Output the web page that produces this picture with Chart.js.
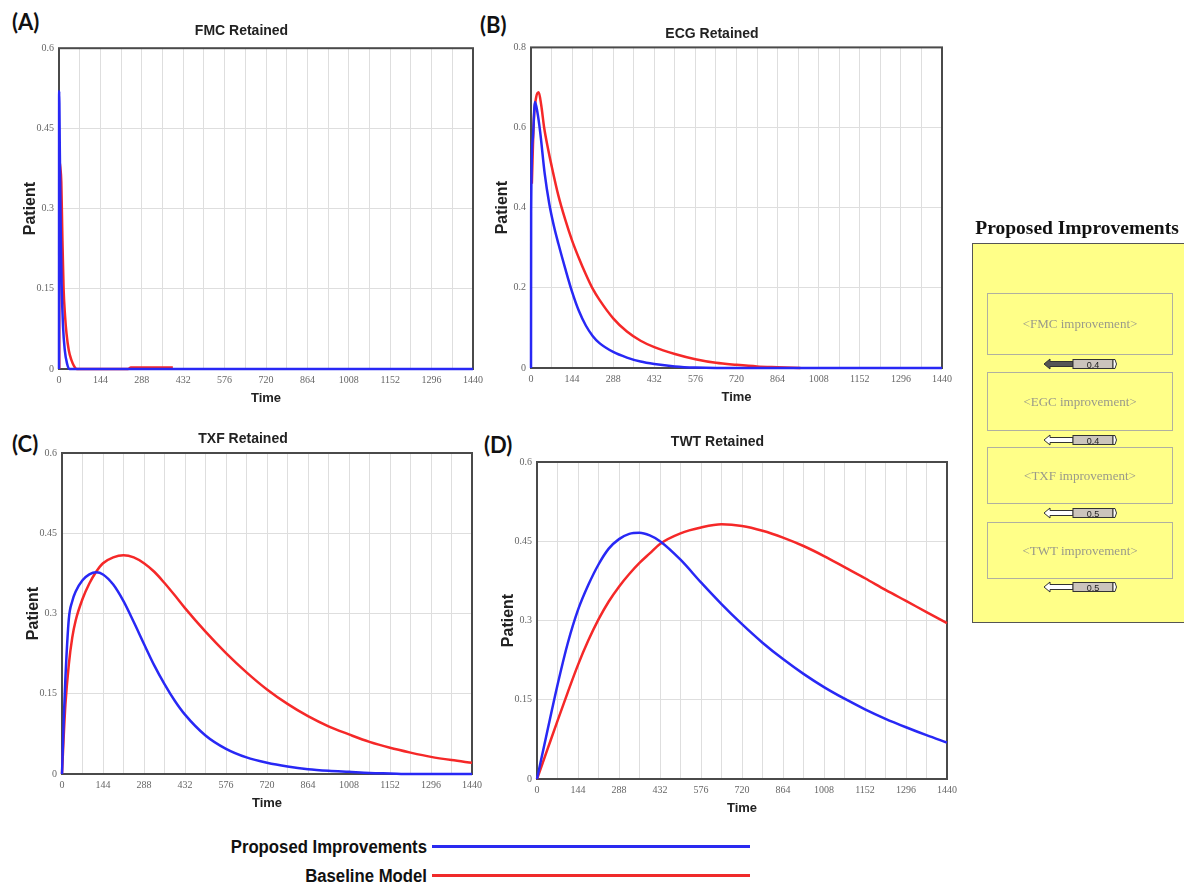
<!DOCTYPE html>
<html>
<head>
<meta charset="utf-8">
<title>Patients retained</title>
<script src="https://cdn.jsdelivr.net/npm/chart.js@4.4.1/dist/chart.umd.min.js"></script>
<style>
  body { margin: 0; width: 1184px; height: 887px; position: relative; overflow: hidden; background: #fff; font-family: "Liberation Sans", Arial, sans-serif; }
  canvas { position: absolute; }
  .tag { position: absolute; font: bold 22px Lato, "Open Sans", sans-serif; line-height: 26px; color: #111; }
  #panelTitle { position: absolute; left: 968px; top: 217px; width: 218px; text-align: center; white-space: nowrap; font: bold 19.5px "Liberation Serif", serif; color: #111; }
  #panel { position: absolute; left: 972px; top: 243px; width: 214px; height: 380px; background: #ffff88; border: 1px solid #555; box-sizing: border-box; }
  .imp { position: absolute; border: 1px solid #b0b0a0; box-sizing: border-box; display: flex; align-items: center; justify-content: center; font: 13px "Liberation Serif", serif; color: #9a9a8a; }
  .slider { position: absolute; }
  .legText { position: absolute; left: 127px; width: 300px; text-align: right; white-space: nowrap; font: bold 18px "Liberation Sans", Arial, sans-serif; color: #111; line-height: 22px; transform: scaleX(0.93); transform-origin: right center; }
  .legLine { position: absolute; left: 432px; width: 318px; height: 3px; }
</style>
</head>
<body>
<div class="tag" style="left:12px;top:9px">(A)</div>
<div class="tag" style="left:480px;top:12px">(B)</div>
<div class="tag" style="left:12px;top:431px">(C)</div>
<div class="tag" style="left:484px;top:432px">(D)</div>

<canvas id="fmc" width="480" height="392" style="left:10px;top:17px"></canvas>
<canvas id="ecg" width="504" height="388" style="left:482px;top:20px"></canvas>
<canvas id="txf" width="474" height="389" style="left:13px;top:425px"></canvas>
<canvas id="twt" width="496" height="391" style="left:488px;top:428px"></canvas>

<div id="panelTitle">Proposed Improvements</div>
<div id="panel"></div>

<div class="legText" id="leg0" style="top:836px"></div>
<div class="legLine" style="top:845px;background:#2a2af0"></div>
<div class="legText" id="leg1" style="top:865px"></div>
<div class="legLine" style="top:874px;background:#f02a2a"></div>

<script>
const seriesNames = ["Proposed Improvements", "Baseline Model"];
const timeLabels = [0, 144, 288, 432, 576, 720, 864, 1008, 1152, 1296, 1440];

// (A) FMC Retained
const fmcTimeProposed = [0, 0.5, 3, 6, 9, 14, 20, 28, 37, 1440];
const fmcProposed = [0, 0.52, 0.4, 0.26, 0.16, 0.08, 0.036, 0.01, 0, 0];
const fmcTimeBaseline = [1, 1.5, 5, 8, 12, 16, 21, 26, 34, 43, 52, 62, 240, 250, 396];
const fmcBaseline = [0, 0.39, 0.375, 0.35, 0.24, 0.15, 0.1, 0.067, 0.035, 0.017, 0.006, 0, 0, 0.003, 0.003];
const fmcTicks = [0, 0.15, 0.3, 0.45, 0.6];
const fmcTickLabels = ["0", "0.15", "0.3", "0.45", "0.6"];

// (B) ECG Retained
const ecgTimeProposed = [0, 0.5, 6, 14, 22, 32, 48, 64, 80, 96, 120, 144, 168, 192, 216, 240, 288, 336, 384, 432, 504, 576, 648, 1440];
const ecgProposed = [0, 0.39, 0.57, 0.664, 0.64, 0.59, 0.485, 0.41, 0.355, 0.31, 0.248, 0.19, 0.142, 0.106, 0.08, 0.062, 0.04, 0.026, 0.016, 0.01, 0.004, 0.001, 0, 0];
const ecgTimeBaseline = [3, 10, 18, 27, 36, 46, 60, 72, 96, 120, 144, 168, 192, 216, 240, 288, 336, 384, 432, 504, 576, 648, 720, 792, 864, 944];
const ecgBaseline = [0.46, 0.62, 0.675, 0.688, 0.655, 0.6, 0.546, 0.505, 0.43, 0.37, 0.318, 0.274, 0.234, 0.198, 0.17, 0.124, 0.091, 0.068, 0.052, 0.035, 0.022, 0.013, 0.008, 0.004, 0.002, 0];
const ecgTicks = [0, 0.2, 0.4, 0.6, 0.8];
const ecgTickLabels = ["0", "0.2", "0.4", "0.6", "0.8"];

// (C) TXF Retained
const txfTime = [0, 6, 12, 24, 36, 48, 72, 96, 120, 144, 180, 216, 252, 288, 324, 360, 396, 432, 504, 576, 648, 720, 792, 864, 936, 1008, 1080, 1152, 1224, 1296, 1368, 1440];
const txfProposed = [0, 0.1, 0.18, 0.29, 0.323, 0.341, 0.362, 0.373, 0.377, 0.373, 0.354, 0.323, 0.284, 0.243, 0.203, 0.168, 0.137, 0.111, 0.072, 0.047, 0.031, 0.021, 0.014, 0.009, 0.006, 0.004, 0.002, 0.001, 0, 0, 0, 0];
const txfBaseline = [0, 0.07, 0.13, 0.205, 0.255, 0.287, 0.327, 0.356, 0.378, 0.394, 0.405, 0.409, 0.405, 0.394, 0.378, 0.357, 0.334, 0.31, 0.266, 0.226, 0.19, 0.158, 0.131, 0.108, 0.089, 0.074, 0.06, 0.049, 0.04, 0.032, 0.026, 0.021];
const txfTicks = [0, 0.15, 0.3, 0.45, 0.6];
const txfTickLabels = ["0", "0.15", "0.3", "0.45", "0.6"];

// (D) TWT Retained
const twtTime = [0, 36, 72, 108, 144, 180, 216, 252, 288, 324, 360, 396, 432, 504, 576, 648, 720, 792, 864, 936, 1008, 1080, 1152, 1224, 1296, 1368, 1440];
const twtProposed = [0, 0.09, 0.178, 0.257, 0.32, 0.367, 0.406, 0.436, 0.454, 0.464, 0.466, 0.461, 0.45, 0.415, 0.372, 0.331, 0.293, 0.258, 0.227, 0.199, 0.174, 0.152, 0.132, 0.114, 0.098, 0.083, 0.069];
const twtBaseline = [0, 0.055, 0.11, 0.164, 0.216, 0.262, 0.302, 0.336, 0.364, 0.388, 0.409, 0.427, 0.445, 0.465, 0.476, 0.482, 0.479, 0.47, 0.457, 0.441, 0.422, 0.401, 0.38, 0.358, 0.337, 0.316, 0.295];
const twtTicks = [0, 0.15, 0.3, 0.45, 0.6];
const twtTickLabels = ["0", "0.15", "0.3", "0.45", "0.6"];

// side panel
const improvementNames = ["<FMC improvement>", "<EGC improvement>", "<TXF improvement>", "<TWT improvement>"];
const improvementValues = ["0.4", "0.4", "0.5", "0.5"];

const blue = "rgb(40, 40, 245)";
const red = "rgb(245, 40, 40)";

function pts(xs, ys) {
  return xs.map((x, i) => ({ x: x, y: ys[i] }));
}

const frame = {
  id: "frame",
  beforeDatasetsDraw(chart) {
    const { ctx, chartArea: a } = chart;
    ctx.save();
    ctx.strokeStyle = "#4a4a4a";
    ctx.lineWidth = 2;
    ctx.strokeRect(a.left, a.top, a.right - a.left, a.bottom - a.top);
    ctx.restore();
  },
};

function makePanel(id, title, proposed, baseline, yTicks, yTickLabels, padRight, titlePad) {
  return new Chart(document.getElementById(id), {
    type: "line",
    data: {
      datasets: [
        { label: seriesNames[0], data: proposed, borderColor: blue, borderWidth: 2.5, pointRadius: 0, cubicInterpolationMode: "monotone", clip: false },
        { label: seriesNames[1], data: baseline, borderColor: red, borderWidth: 2.5, pointRadius: 0, cubicInterpolationMode: "monotone", clip: false },
      ],
    },
    options: {
      responsive: false,
      animation: false,
      layout: { padding: { left: 0, top: 0, right: padRight, bottom: 0 } },
      plugins: {
        legend: { display: false },
        tooltip: { enabled: false },
        title: {
          display: true,
          text: title,
          color: "#222",
          font: { family: "Liberation Sans", size: 14, weight: "bold" },
          padding: { top: 6, bottom: titlePad },
        },
      },
      scales: {
        x: {
          type: "linear",
          min: 0,
          max: 1440,
          afterFit: (axis) => { axis.height = 40; },
          ticks: {
            stepSize: 72,
            autoSkip: false,
            maxRotation: 0,
            padding: 5,
            color: "#666",
            font: { family: "Liberation Serif", size: 10 },
            callback: (v) => (timeLabels.includes(v) ? String(v) : ""),
          },
          grid: { color: "#dedede", drawTicks: false },
          border: { display: false },
          title: {
            display: true,
            text: "Time",
            color: "#222",
            font: { family: "Liberation Sans", size: 13, weight: "bold" },
            padding: { top: 0, bottom: 3 },
          },
        },
        y: {
          min: yTicks[0],
          max: yTicks[yTicks.length - 1],
          afterFit: (axis) => { axis.width = 49; },
          afterBuildTicks: (axis) => { axis.ticks = yTicks.map((v) => ({ value: v })); },
          ticks: {
            padding: 5,
            color: "#666",
            font: { family: "Liberation Serif", size: 10 },
            callback: (v, i) => yTickLabels[i],
          },
          grid: { color: "#dedede", drawTicks: false },
          border: { display: false },
          title: {
            display: true,
            text: "Patient",
            color: "#222",
            font: { family: "Liberation Sans", size: 16, weight: "bold" },
            padding: { top: 11, bottom: 0 },
          },
        },
      },
    },
    plugins: [frame],
  });
}

makePanel("fmc", "FMC Retained", pts(fmcTimeProposed, fmcProposed), pts(fmcTimeBaseline, fmcBaseline), fmcTicks, fmcTickLabels, 17, 8.4);
makePanel("ecg", "ECG Retained", pts(ecgTimeProposed, ecgProposed), pts(ecgTimeBaseline, ecgBaseline), ecgTicks, ecgTickLabels, 44, 4.6);
makePanel("txf", "TXF Retained", pts(txfTime, txfProposed), pts(txfTime, txfBaseline), txfTicks, txfTickLabels, 14, 5.2);
makePanel("twt", "TWT Retained", pts(twtTime, twtProposed), pts(twtTime, twtBaseline), twtTicks, twtTickLabels, 37, 11.2);

// side panel boxes and sliders
const boxTops = [49, 128, 203, 278];
const boxHeights = [62, 59, 57, 57];
const sliderTops = [112, 188, 261, 335];
const panel = document.getElementById("panel");
improvementNames.forEach((name, i) => {
  const box = document.createElement("div");
  box.className = "imp";
  box.style.left = "14px";
  box.style.width = "186px";
  box.style.top = boxTops[i] + "px";
  box.style.height = boxHeights[i] + "px";
  box.textContent = name;
  panel.appendChild(box);

  const fill = i === 0 ? "#555" : "#fff";
  const s = document.createElement("div");
  s.className = "slider";
  s.style.left = "70px";
  s.style.top = sliderTops[i] + "px";
  s.innerHTML =
    '<svg width="76" height="12" xmlns="http://www.w3.org/2000/svg">' +
    '<polygon points="1,6 7,1 7,3.5 30,3.5 30,8.5 7,8.5 7,11" fill="' + fill + '" stroke="#333" stroke-width="1"/>' +
    '<rect x="30" y="1.5" width="40" height="9" fill="#cbc4bc" stroke="#333" stroke-width="1"/>' +
    '<text x="50" y="9.6" font-size="9" font-family="Liberation Sans, sans-serif" text-anchor="middle" fill="#222">' + improvementValues[i] + '</text>' +
    '<path d="M70,1.5 h2 q3,4.5 0,9 h-2 z" fill="#fff" stroke="#333" stroke-width="1"/>' +
    '</svg>';
  panel.appendChild(s);
});

document.getElementById("leg0").textContent = seriesNames[0];
document.getElementById("leg1").textContent = seriesNames[1];
</script>
</body>
</html>
